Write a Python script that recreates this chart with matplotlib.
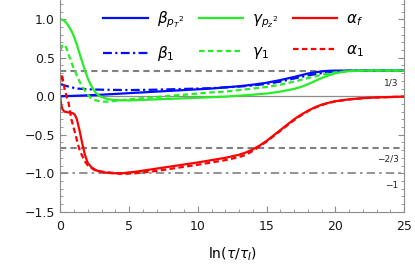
import matplotlib

matplotlib.use("Agg")
import matplotlib.pyplot as plt
from matplotlib.ticker import FuncFormatter, MultipleLocator

# curves: x = ln(tau/tau_I)
beta_pt_x = [0, 1, 2, 3, 4, 5, 6, 7, 8, 9, 10, 11, 12, 13, 14, 15, 16, 16.5, 17, 17.5, 18,
             18.5, 19, 19.5, 20, 25]
beta_pt_y = [0.0, 0.005, 0.012, 0.02, 0.03, 0.04, 0.05, 0.06, 0.07, 0.08, 0.09, 0.10, 0.115,
             0.13, 0.15, 0.175, 0.21, 0.23, 0.25, 0.272, 0.295, 0.31, 0.322, 0.33, 0.333, 0.333]

beta1_x = [0, 0.3, 0.7, 1.2, 2, 3, 5, 7, 9, 11, 13, 14, 15, 16, 17, 18, 19, 20, 21, 22, 25]
beta1_y = [0.16, 0.14, 0.12, 0.10, 0.09, 0.085, 0.08, 0.085, 0.095, 0.105, 0.125, 0.14, 0.16,
           0.19, 0.23, 0.27, 0.30, 0.32, 0.33, 0.333, 0.333]

gamma_pz_x = [0, 0.2, 0.4, 0.6, 0.8, 1.0, 1.2, 1.4, 1.6, 1.8, 2.0, 2.2, 2.4, 2.6, 2.8, 3.0,
              3.5, 4, 5, 7, 10, 12, 14, 15, 16, 17, 17.5, 18, 18.5, 19, 19.5, 20, 20.5, 21,
              22, 25]
gamma_pz_y = [1.0, 0.99, 0.96, 0.91, 0.85, 0.77, 0.67, 0.55, 0.44, 0.33, 0.23, 0.15, 0.09,
              0.04, 0.01, -0.01, -0.04, -0.05, -0.055, -0.04, -0.02, -0.005, 0.02, 0.035,
              0.06, 0.095, 0.12, 0.155, 0.195, 0.235, 0.27, 0.298, 0.315, 0.326, 0.333, 0.333]

gamma1_x = [0, 0.15, 0.3, 0.45, 0.6, 0.8, 1.0, 1.2, 1.4, 1.6, 1.8, 2.0, 2.2, 2.5, 3, 3.5, 4,
            5, 6, 7, 8, 9, 10, 11, 12, 13, 14, 15, 16, 17, 18, 19, 20, 21, 22, 25]
gamma1_y = [0.6, 0.66, 0.67, 0.62, 0.54, 0.44, 0.35, 0.27, 0.19, 0.12, 0.07, 0.02, -0.02,
            -0.05, -0.07, -0.07, -0.06, -0.04, -0.025, -0.01, 0.005, 0.02, 0.035, 0.05, 0.06,
            0.08, 0.10, 0.12, 0.15, 0.19, 0.235, 0.28, 0.31, 0.327, 0.333, 0.333]

alpha_f_x = [0, 0.05, 0.15, 0.3, 0.6, 0.9, 1.05, 1.2, 1.4, 1.6, 1.8, 2.0, 2.3, 2.7, 3.2, 3.8,
             4.5, 5.5, 7, 8.5, 10, 11, 12, 13, 13.5, 14, 14.5, 15, 15.5, 16, 16.5, 17, 17.5,
             18, 18.5, 19, 19.5, 20, 21, 22, 23, 25]
alpha_f_y = [-0.02, -0.1, -0.17, -0.2, -0.21, -0.22, -0.24, -0.3, -0.45, -0.62, -0.77, -0.87,
             -0.93, -0.97, -0.99, -1.0, -1.0, -0.98, -0.94, -0.9, -0.86, -0.83, -0.8, -0.76,
             -0.73, -0.69, -0.64, -0.58, -0.51, -0.44, -0.37, -0.30, -0.24, -0.19, -0.145,
             -0.11, -0.085, -0.065, -0.04, -0.025, -0.015, -0.005]

alpha1_x = [0, 0.07, 0.15, 0.3, 0.45, 0.6, 0.8, 1.0, 1.2, 1.4, 1.6, 1.8, 2.0, 2.5, 3, 4, 4.5,
            5.5, 7, 8.5, 10, 11, 12, 13, 13.5, 14, 14.5, 15, 15.5, 16, 16.5, 17, 17.5, 18,
            18.5, 19, 19.5, 20, 21, 22, 23, 25]
alpha1_y = [0.2, 0.29, 0.25, 0.1, 0.0, -0.09, -0.3, -0.43, -0.57, -0.7, -0.78, -0.85, -0.9,
            -0.96, -0.98, -1.0, -1.01, -1.0, -0.97, -0.93, -0.89, -0.86, -0.83, -0.79, -0.76,
            -0.71, -0.65, -0.59, -0.52, -0.45, -0.38, -0.31, -0.25, -0.195, -0.15, -0.115,
            -0.088, -0.067, -0.042, -0.026, -0.016, -0.005]

ref_levels = [1 / 3, -2 / 3, -1]
ref_labels = ["1/3", "\u22122/3", "\u22121"]

BLUE, GREEN, RED = (0.0, 0.05, 1.0), (0.15, 0.93, 0.15), (1.0, 0.0, 0.0)
GRAY = "0.5"

plt.rcParams["font.family"] = ["DejaVu Sans"]
fig = plt.figure(figsize=(4.15, 2.68), dpi=100)
ax = fig.add_axes([0.1455, 0.21, 0.828, 0.79])

ax.axhline(0, color="0.55", lw=0.9, zorder=1)
ax.axhline(ref_levels[0], color=GRAY, lw=1.5, ls=(0, (3, 2)), zorder=1)
ax.axhline(ref_levels[1], color=GRAY, lw=1.5, ls=(0, (3, 2)), zorder=1)
ax.axhline(ref_levels[2], color=GRAY, lw=1.2, ls=(0, (5, 2.5, 1.5, 2.5)), zorder=1)

lw = 1.6
ax.plot(beta_pt_x, beta_pt_y, color=BLUE, lw=lw, label=r"$\beta_{{p_T}^2}$")
ax.plot(beta1_x, beta1_y, color=BLUE, lw=lw, ls=(0, (4, 1.5, 1, 1.5)), label=r"$\beta_1$")
ax.plot(gamma_pz_x, gamma_pz_y, color=GREEN, lw=lw, label=r"$\gamma_{{p_z}^2}$")
ax.plot(gamma1_x, gamma1_y, color=GREEN, lw=lw, ls=(0, (2.5, 1.5)), label=r"$\gamma_1$")
ax.plot(alpha_f_x, alpha_f_y, color=RED, lw=lw, label=r"$\alpha_f$")
ax.plot(alpha1_x, alpha1_y, color=RED, lw=lw, ls=(0, (2.5, 1.5)), label=r"$\alpha_1$")

for lev, txt in zip(ref_levels, ref_labels):
    ax.text(24.6, lev - 0.155, txt, fontsize=6.5, color="0.15", ha="right", va="center")

ax.set_xlim(0, 25)
ax.set_ylim(-1.5, 1.25)
ax.xaxis.set_major_locator(MultipleLocator(5))
ax.xaxis.set_minor_locator(MultipleLocator(1))
ax.yaxis.set_major_locator(MultipleLocator(0.5))
ax.yaxis.set_minor_locator(MultipleLocator(0.1))
ax.tick_params(which="both", direction="in", color="0.55", right=True, top=False)
ax.tick_params(which="major", length=4, labelsize=9, labelcolor="0.1")
ax.tick_params(which="minor", length=2)
ax.tick_params(axis="x", which="major", pad=6)
ax.tick_params(axis="y", which="major", pad=4)
ax.yaxis.set_major_formatter(FuncFormatter(lambda v, _: f"{v:.1f}".replace("-", "\u2212")))
for side in ("left", "right", "bottom"):
    ax.spines[side].set_color("0.55")
ax.spines["top"].set_visible(False)

ax.set_xlabel(r"$\mathrm{ln}(\tau/\tau_I)$", fontsize=10, labelpad=9)

ax.legend(loc="upper left", bbox_to_anchor=(0.085, 1.02), ncol=3, frameon=False, fontsize=11,
          handlelength=2.9, columnspacing=0.95, handletextpad=0.6, labelspacing=0.9)

fig.savefig("out.png", dpi=100)
